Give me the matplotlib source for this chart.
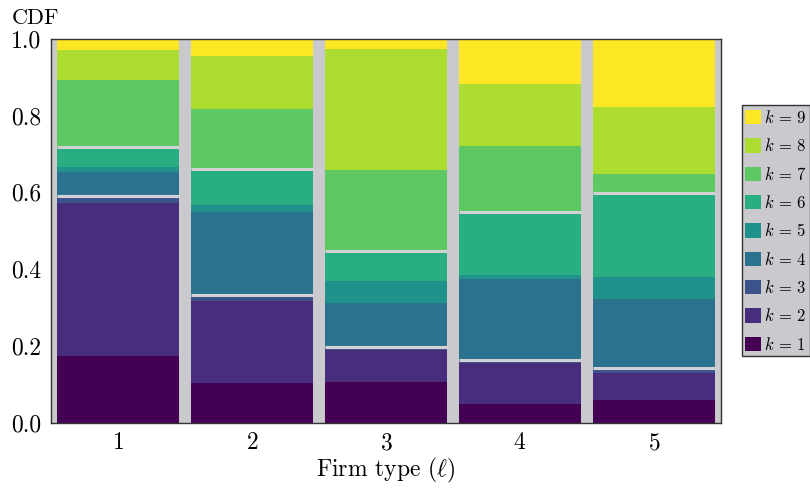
import numpy as np
import matplotlib
matplotlib.use("Agg")
import matplotlib.pyplot as plt
from matplotlib.patches import Patch

plt.rcParams["font.family"] = "cmr10"
plt.rcParams["mathtext.fontset"] = "cm"
plt.rcParams["axes.formatter.use_mathtext"] = True

# Firm types and cumulative share up to each k (k = 1..8; k = 9 closes at 1.0)
firm_types = [1, 2, 3, 4, 5]
cdf_k1 = [0.173, 0.104, 0.106, 0.047, 0.059]
cdf_k2 = [0.572, 0.318, 0.189, 0.154, 0.130]
cdf_k3 = [0.591, 0.332, 0.197, 0.162, 0.141]
cdf_k4 = [0.652, 0.550, 0.312, 0.373, 0.322]
cdf_k5 = [0.667, 0.567, 0.368, 0.385, 0.379]
cdf_k6 = [0.718, 0.660, 0.447, 0.550, 0.598]
cdf_k7 = [0.893, 0.817, 0.658, 0.721, 0.647]
cdf_k8 = [0.971, 0.956, 0.973, 0.884, 0.823]
cdf_k9 = [1.0, 1.0, 1.0, 1.0, 1.0]

cdf = np.array([cdf_k1, cdf_k2, cdf_k3, cdf_k4, cdf_k5,
                cdf_k6, cdf_k7, cdf_k8, cdf_k9])
n_k = cdf.shape[0]
colors = plt.cm.viridis(np.linspace(0, 1, n_k))
bg = "#c9c9ce"
width = 0.915

fig = plt.figure(figsize=(8.1, 4.91), dpi=100)
ax = fig.add_axes([0.063, 0.1395, 0.827, 0.781])
ax.set_facecolor(bg)

x = np.array(firm_types)
bottom = np.zeros(len(x))
for k in range(n_k):
    ax.bar(x, cdf[k] - bottom, bottom=bottom, width=width,
           color=colors[k], linewidth=0)
    bottom = cdf[k].copy()

# separators between the low / middle / high groups of k
for level in (cdf[2], cdf[5]):
    for xi, yv in zip(x, level):
        ax.plot([xi - width / 2, xi + width / 2], [yv, yv],
                color="#d2d2d6", lw=2.2, solid_capstyle="butt")

ax.set_xlim(0.5, 5.5)
ax.set_ylim(0, 1)
ax.set_xticks(firm_types)
ax.set_yticks(np.arange(0, 1.01, 0.2))
ax.yaxis.set_major_formatter(matplotlib.ticker.FormatStrFormatter("%.1f"))
ax.tick_params(length=0, labelsize=17, pad=7)
for s in ax.spines.values():
    s.set_color("#333333")
    s.set_linewidth(1.0)

ax.set_xlabel(r"Firm type ($\ell$)", fontsize=17, labelpad=1)
ax.text(-0.058, 1.03, "CDF", transform=ax.transAxes, fontsize=16,
        ha="left", va="bottom")

handles = [Patch(facecolor=colors[k], edgecolor="none") for k in range(n_k)][::-1]
labels = [r"$k \,=\, %d$" % (k + 1) for k in range(n_k)][::-1]
leg = ax.legend(handles, labels, loc="center left", bbox_to_anchor=(1.031, 0.5),
                frameon=True, fancybox=False, facecolor=bg, edgecolor="#333333",
                framealpha=1, fontsize=12, handlelength=0.95, handleheight=0.95,
                handletextpad=0.15, borderpad=0.22, labelspacing=0.68,
                borderaxespad=0)
leg.get_frame().set_linewidth(1.0)

fig.savefig("out.png", dpi=100)
